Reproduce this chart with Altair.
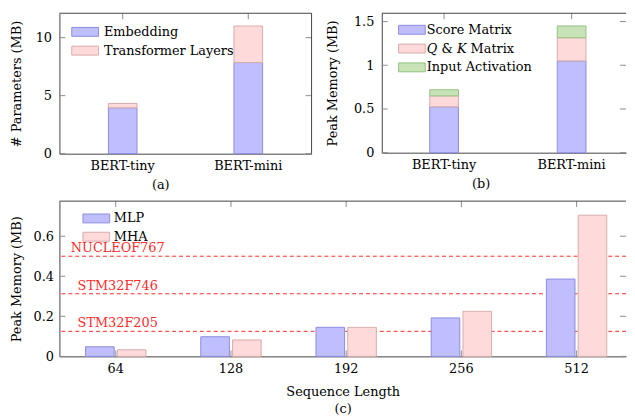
import altair as alt
import pandas as pd

# ---------------- data ----------------
models = ["BERT-tiny", "BERT-mini"]
param_parts = ["Embedding", "Transformer Layers"]
param_embedding = [3.95, 7.85]
param_transformer = [0.38, 3.15]

mem_parts = ["Score Matrix", "𝑄 & 𝐾 Matrix", "Input Activation"]
mem_score = [0.525, 1.05]
mem_qk = [0.125, 0.265]
mem_input = [0.07, 0.135]

seq_lengths = ["64", "128", "192", "256", "512"]
ops = ["MLP", "MHA"]
mlp_mem = [0.048, 0.098, 0.145, 0.192, 0.386]
mha_mem = [0.033, 0.082, 0.145, 0.225, 0.705]

devices = ["NUCLEOF767", "STM32F746", "STM32F205"]
device_mem = [0.5, 0.3125, 0.125]

ticks_a = [0, 5, 10]
ticks_b = [0, 0.5, 1, 1.5]
ticks_c = [0, 0.2, 0.4, 0.6]

ymax_a, ymax_b, ymax_c = 12.1, 1.595, 0.775

# ---------------- style ----------------
FONT = "DejaVu Serif"
FS = 13
FRAME = "#444444"
TICK = "#8c8c8c"
BLUE, BLUE_S = "#BFBFFF", "#8C8CE0"
PINK, PINK_S = "#FFDADA", "#D9ABAB"
GREEN, GREEN_S = "#C9E3B9", "#93C283"
RED = "#FF2A2A"

WA, HA = 255, 142
WB, HB = 247, 141
WC, HC = 573, 157

df_a = pd.DataFrame({
    "model": models + models,
    "part": [param_parts[0]] * 2 + [param_parts[1]] * 2,
    "value": param_embedding + param_transformer,
    "k": [0, 0, 1, 1],
})
df_b = pd.DataFrame({
    "model": models * 3,
    "part": [mem_parts[0]] * 2 + [mem_parts[1]] * 2 + [mem_parts[2]] * 2,
    "value": mem_score + mem_qk + mem_input,
    "k": [0, 0, 1, 1, 2, 2],
})
df_c = pd.DataFrame({
    "seq": seq_lengths * 2,
    "op": [ops[0]] * 5 + [ops[1]] * 5,
    "mem": mlp_mem + mha_mem,
})
df_dev = pd.DataFrame({"device": devices, "mem": device_mem})


def legend(x, y, offset, rowpad):
    return alt.Legend(
        title=None, orient="none", legendX=x, legendY=y, padding=0,
        rowPadding=rowpad, symbolType="M-1.5,-0.5H1.5V0.5H-1.5Z",
        symbolSize=324, symbolStrokeWidth=1, labelOffset=offset,
        labelFont=FONT, labelFontSize=FS, labelColor="black", labelLimit=400,
    )


def yaxis(title, values, ext, tpad, lpad):
    return alt.Axis(
        title=title, values=values, format="~g", ticks=False, tickSize=0,
        grid=False, domain=True, domainColor=FRAME, domainWidth=1,
        labelPadding=lpad, minExtent=ext, maxExtent=ext, titlePadding=tpad,
        labelAlign="right", labelBaseline="middle",
        labelFont=FONT, labelFontSize=FS, titleFont=FONT, titleFontSize=FS,
        titleFontWeight="normal", labelColor="black", titleColor="black",
    )


def xaxis(title, tpad, titleX=None, lineh=None):
    kw = dict(
        title=title, labelAngle=0, labelAlign="center", labelBaseline="top",
        ticks=False, tickSize=0, grid=False,
        domain=True, domainColor=FRAME, domainWidth=1, labelPadding=6,
        titlePadding=tpad, labelFont=FONT, labelFontSize=FS, titleFont=FONT,
        titleFontSize=FS, titleFontWeight="normal", labelColor="black",
        titleColor="black",
    )
    if titleX is not None:
        kw["titleX"] = titleX
    if lineh is not None:
        kw["titleLineHeight"] = lineh
    return alt.Axis(**kw)


def ticks(xvals, xfield, yvals, yfield, W, H, L=6):
    dy = pd.DataFrame({yfield: yvals})
    dx = pd.DataFrame({xfield: xvals})
    by = alt.Chart(dy).mark_rule(color=TICK, strokeWidth=1)
    bx = alt.Chart(dx).mark_rule(color=TICK, strokeWidth=1)
    return [
        by.encode(y=alt.Y(f"{yfield}:Q"), x=alt.value(0), x2=alt.value(L)),
        by.encode(y=alt.Y(f"{yfield}:Q"), x=alt.value(W - L), x2=alt.value(W)),
        bx.encode(x=alt.X(f"{xfield}:N"), y=alt.value(0), y2=alt.value(L)),
        bx.encode(x=alt.X(f"{xfield}:N"), y=alt.value(H - L), y2=alt.value(H)),
    ]


def frame(W, H, right):
    d = pd.DataFrame({"f": [0]})
    b = alt.Chart(d).mark_rule(color=FRAME, strokeWidth=1)
    out = [b.encode(y=alt.value(0), x=alt.value(0), x2=alt.value(W))]
    if right:
        out.append(b.encode(x=alt.value(W), y=alt.value(0), y2=alt.value(H)))
    return out


# ---------------- (a) ----------------
bars_a = alt.Chart(df_a).mark_bar(strokeWidth=1).encode(
    x=alt.X("model:N", sort=models,
            scale=alt.Scale(domain=models, paddingInner=0.772, paddingOuter=0.39, align=0.5),
            axis=xaxis("(a)", 6, titleX=102)),
    y=alt.Y("value:Q", stack="zero",
            scale=alt.Scale(domain=[0, ymax_a], nice=False, zero=True),
            axis=yaxis("# Parameters (MB)", ticks_a, 21, 15, 8)),
    color=alt.Color("part:N", scale=alt.Scale(domain=param_parts, range=[BLUE, PINK]),
                    legend=legend(16.5, 9.3, 9.5, 2)),
    stroke=alt.Stroke("part:N", scale=alt.Scale(domain=param_parts, range=[BLUE_S, PINK_S]),
                      legend=legend(16.5, 9.3, 9.5, 2)),
    order=alt.Order("k:Q", sort="ascending"),
)
chart_a = alt.layer(
    *ticks(models, "model", ticks_a, "value", WA, HA), bars_a, *frame(WA, HA, True)
).properties(width=WA, height=HA)

# ---------------- (b) ----------------
bars_b = alt.Chart(df_b).mark_bar(strokeWidth=1).encode(
    x=alt.X("model:N", sort=models,
            scale=alt.Scale(domain=models, paddingInner=0.775, paddingOuter=0.345, align=0.545),
            axis=xaxis("(b)", 6, titleX=100)),
    y=alt.Y("value:Q", stack="zero",
            scale=alt.Scale(domain=[0, ymax_b], nice=False, zero=True),
            axis=yaxis("Peak Memory (MB)", ticks_b, 25, 18, 8)),
    color=alt.Color("part:N", scale=alt.Scale(domain=mem_parts, range=[BLUE, PINK, GREEN]),
                    legend=legend(21, 7.2, 5.5, 2)),
    stroke=alt.Stroke("part:N", scale=alt.Scale(domain=mem_parts, range=[BLUE_S, PINK_S, GREEN_S]),
                      legend=legend(21, 7.2, 5.5, 2)),
    order=alt.Order("k:Q", sort="ascending"),
)
chart_b = alt.layer(
    *ticks(models, "model", ticks_b, "value", WB, HB), bars_b, *frame(WB, HB, False)
).properties(width=WB, height=HB)

# ---------------- (c) ----------------
bars_c = alt.Chart(df_c).mark_bar(strokeWidth=1).encode(
    x=alt.X("seq:N", sort=seq_lengths,
            scale=alt.Scale(domain=seq_lengths, paddingInner=0.476, paddingOuter=0.197, align=0.576),
            axis=xaxis(["Sequence Length", "(c)"], 11, lineh=17)),
    xOffset=alt.XOffset("op:N", sort=ops,
                        scale=alt.Scale(domain=ops, paddingInner=0.1, paddingOuter=0)),
    y=alt.Y("mem:Q", scale=alt.Scale(domain=[0, ymax_c], nice=False, zero=True),
            axis=yaxis("Peak Memory (MB)", ticks_c, 25, 11, 6)),
    color=alt.Color("op:N", scale=alt.Scale(domain=ops, range=[BLUE, PINK]),
                    legend=legend(27.8, 8.0, 8.2, 1.5)),
    stroke=alt.Stroke("op:N", scale=alt.Scale(domain=ops, range=[BLUE_S, PINK_S]),
                      legend=legend(27.8, 8.0, 8.2, 1.5)),
)
dev_lines = alt.Chart(df_dev).mark_rule(color=RED, strokeWidth=1, strokeDash=[4, 3]).encode(
    y=alt.Y("mem:Q")
)
dev_text = alt.Chart(df_dev).mark_text(
    color=RED, font=FONT, fontSize=13, baseline="bottom", align="center", dy=-1, dx=2
).encode(
    x=alt.datum(seq_lengths[0]),
    y=alt.Y("mem:Q"),
    text="device:N",
)
chart_c = alt.layer(
    *ticks(seq_lengths, "seq", ticks_c, "mem", WC, HC), dev_lines, bars_c, dev_text,
    *frame(WC, HC, False)
).properties(width=WC, height=HC)

top = alt.hconcat(chart_a, chart_b, spacing=71, bounds="flush").resolve_scale(
    color="independent", stroke="independent"
)
chart = alt.vconcat(top, chart_c, spacing=9).resolve_scale(
    color="independent", stroke="independent"
).properties(
    padding={"left": 2, "top": 2, "right": 0, "bottom": 0}
).configure_view(stroke=None)

chart.save("out.html", embed_options={"renderer": "svg", "actions": False})
